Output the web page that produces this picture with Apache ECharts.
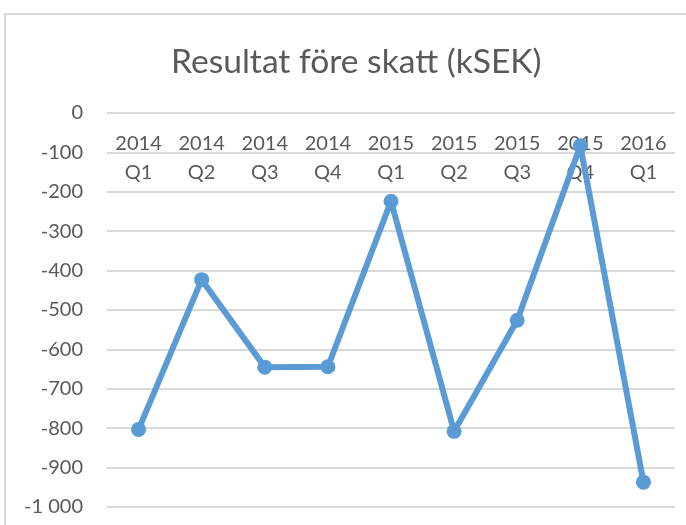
<html>
<head>
    <meta charset="utf-8">
    <title>Resultat före skatt</title>
    <script src="https://cdn.jsdelivr.net/npm/echarts@6.0.0/dist/echarts.min.js"></script>
    <style>
        html, body { margin: 0; padding: 0; background: #fff; }
    </style>
</head>
<body>
<div id="main" style="width: 686px; height: 525px"></div>
<script>
    var quarters = ['2014\nQ1', '2014\nQ2', '2014\nQ3', '2014\nQ4', '2015\nQ1', '2015\nQ2', '2015\nQ3', '2015\nQ4', '2016\nQ1']
    var resultat = [-803, -423, -645, -644, -224, -808, -526, -83, -937]

    var textColor = '#595959'
    var font = 'Lato, "Open Sans", sans-serif'

    var myChart = echarts.init(document.getElementById('main'))

    myChart.setOption({
        animation: false,
        title: {
            text: 'Resultat före skatt (kSEK)',
            left: 166,
            top: 40,
            textStyle: {
                color: textColor,
                fontFamily: font,
                fontSize: 33.6,
                fontWeight: 'normal'
            }
        },
        graphic: [{
            type: 'rect',
            shape: { x: 5, y: 14, width: 700, height: 540 },
            style: { fill: null, stroke: '#d9d9d9', lineWidth: 2 },
            silent: true
        }],
        grid: {
            left: 107,
            right: 11,
            top: 113,
            bottom: 18,
            containLabel: false
        },
        xAxis: {
            type: 'category',
            data: quarters,
            position: 'top',
            boundaryGap: true,
            axisLine: { show: false },
            axisTick: { show: false },
            axisLabel: {
                inside: true,
                margin: 16,
                color: textColor,
                fontFamily: font,
                fontSize: 20,
                lineHeight: 29,
                verticalAlign: 'top'
            },
            z: 1
        },
        yAxis: {
            type: 'value',
            min: -1000,
            max: 0,
            interval: 100,
            axisLine: { show: false },
            axisTick: { show: false },
            splitLine: { lineStyle: { color: '#d9d9d9', width: 2 } },
            axisLabel: {
                margin: 24,
                color: textColor,
                fontFamily: font,
                fontSize: 20,
                formatter: function (v) {
                    return v === -1000 ? '-1 000' : String(v)
                }
            }
        },
        series: [{
            type: 'line',
            data: resultat,
            z: 2,
            symbol: 'circle',
            symbolSize: 15,
            itemStyle: { color: '#5b9bd5' },
            lineStyle: { color: '#5b9bd5', width: 6 }
        }]
    })
</script>
</body>
</html>
